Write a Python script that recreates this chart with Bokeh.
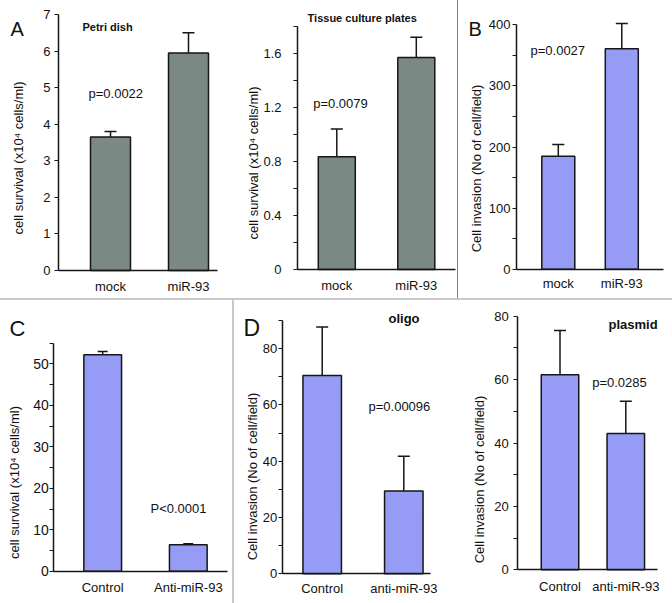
import math
from bokeh.plotting import figure
from bokeh.models import ColumnDataSource, Whisker, TeeHead, Label, FixedTicker, Range1d, Div
from bokeh.layouts import row, column
from bokeh.embed import file_html
from bokeh.resources import INLINE

# ---------------- data ----------------
a1_cats = ["mock", "miR-93"]
a1_vals = [3.65, 5.95]
a1_errs = [0.15, 0.55]
a1_major = [0, 1, 2, 3, 4, 5, 6, 7]
a1_minor = []

a2_cats = ["mock", "miR-93"]
a2_vals = [0.835, 1.57]
a2_errs = [0.205, 0.15]
a2_major = [0, 0.4, 0.8, 1.2, 1.6]
a2_minor = [0.2, 0.6, 1.0, 1.4, 1.8]

b_cats = ["mock", "miR-93"]
b_vals = [185, 361]
b_errs = [19, 41]
b_major = [0, 100, 200, 300, 400]
b_minor = [50, 150, 250, 350]

c_cats = ["Control", "Anti-miR-93"]
c_vals = [52.2, 6.4]
c_errs = [0.8, 0.2]
c_major = [0, 10, 20, 30, 40, 50]
c_minor = [5, 15, 25, 35, 45, 55]

d1_cats = ["Control", "anti-miR-93"]
d1_vals = [70.5, 29.4]
d1_errs = [17.2, 12.4]
d1_major = [0, 20, 40, 60, 80]
d1_minor = [10, 30, 50, 70, 90]

d2_cats = ["Control", "anti-miR-93"]
d2_vals = [61.5, 43.0]
d2_errs = [14.0, 10.2]
d2_major = [0, 20, 40, 60, 80]
d2_minor = [10, 30, 50, 70]

surv_label = "cell survival (x10\u2074 cells/ml)"
inv_label = "Cell invasion (No of cell/field)"

FONT = "Liberation Sans"
GRAY = "#7b8985"
BLUE = "#969cf6"
INK = "#161616"


def panel(cats, vals, errs, color, box, ax_x, x_end, zero_px, top_px, ytop,
          centers, barw, major, minor, ylab, ylab_pos, texts, xstand, ystand,
          tick_size=13, cap=12):
    x0, y0, w, h = box
    c0, c1 = centers
    ppu = c1 - c0                      # pixels per category step
    upp = (zero_px - top_px) / ytop    # pixels per y unit

    def px2d(px, py):
        return ((px - c0) / ppu, (zero_px - py) / upp)

    xs, ye = px2d(x0, y0)
    xe, ys = px2d(x0 + w, y0 + h)
    p = figure(width=w, height=h, x_range=Range1d(xs, xe), y_range=Range1d(ys, ye),
               output_backend="svg", toolbar_location=None,
               min_border_left=0, min_border_right=0, min_border_top=0, min_border_bottom=0)
    p.background_fill_color = "white"
    p.border_fill_color = "white"
    p.outline_line_color = None
    p.xgrid.visible = False
    p.ygrid.visible = False

    x = list(range(len(cats)))
    top = [v + e for v, e in zip(vals, errs)]
    src = ColumnDataSource(dict(x=x, val=vals, top=top))
    p.vbar(x="x", top="val", bottom=0, width=barw / ppu, source=src,
           fill_color=color, line_color=INK, line_width=1.5)
    wh = Whisker(source=src, base="x", lower="val", upper="top",
                 upper_head=TeeHead(size=cap, line_color=INK, line_width=1.5),
                 lower_head=None, line_color=INK, line_width=1.5, level="overlay")
    p.add_layout(wh)

    axis_xd = px2d(ax_x, 0)[0]
    end_xd = px2d(x_end, 0)[0]

    xa = p.xaxis[0]
    xa.fixed_location = 0
    xa.bounds = (axis_xd, end_xd)
    xa.ticker = FixedTicker(ticks=x)
    xa.major_label_overrides = {i: c for i, c in enumerate(cats)}
    xa.major_tick_out = 0
    xa.major_tick_in = 0
    xa.minor_tick_out = 0
    xa.minor_tick_in = 0
    xa.major_label_standoff = xstand
    xa.axis_line_color = INK
    xa.axis_line_width = 1.5
    xa.major_label_text_font = FONT
    xa.major_label_text_font_size = "13px"
    xa.major_label_text_color = "#111111"

    ya = p.yaxis[0]
    ya.fixed_location = axis_xd
    ya.bounds = (0, ytop)
    ya.ticker = FixedTicker(ticks=major, minor_ticks=minor)
    ya.major_tick_out = 4
    ya.major_tick_in = 0
    ya.minor_tick_out = 4
    ya.minor_tick_in = 0
    ya.major_tick_line_color = INK
    ya.minor_tick_line_color = INK
    ya.major_tick_line_width = 1.2
    ya.minor_tick_line_width = 1.2
    ya.axis_line_color = INK
    ya.axis_line_width = 1.5
    ya.major_label_standoff = ystand
    ya.major_label_text_font = FONT
    ya.major_label_text_font_size = f"{tick_size}px"
    ya.major_label_text_color = "#111111"

    lx, ly = px2d(*ylab_pos)
    p.add_layout(Label(x=lx, y=ly, text=ylab, angle=math.pi / 2, text_align="center",
                       text_baseline="middle", text_font=FONT, text_font_size="13px",
                       text_color="#111111"))
    for (t, px, py, size, bold, align) in texts:
        tx, ty = px2d(px, py)
        p.add_layout(Label(x=tx, y=ty, text=t, text_align=align, text_baseline="alphabetic",
                           text_font=FONT, text_font_size=f"{size}px",
                           text_font_style="bold" if bold else "normal",
                           text_color="#111111"))
    return p


pa1 = panel(a1_cats, a1_vals, a1_errs, GRAY, (0, 0, 222, 298), 58, 217, 270, 14, 7,
            (110, 188), 40, a1_major, a1_minor, surv_label, (18, 157.5),
            [("A", 10, 28, 20, False, "left"), ("Petri dish", 82, 26, 11, True, "left"),
             ("p=0.0022", 88, 93, 13, False, "left")], 8, 4)

pa2 = panel(a2_cats, a2_vals, a2_errs, GRAY, (222, 0, 235, 298), 297, 455, 269, 26, 1.8,
            (336.3, 415.8), 37, a2_major, a2_minor, surv_label, (253, 162.5),
            [("Tissue culture plates", 361.7, 17.5, 11, True, "center"),
             ("p=0.0079", 312.7, 103, 13, False, "left")], 8, 12)

pb = panel(b_cats, b_vals, b_errs, BLUE, (458, 0, 214, 298), 516, 663, 268.7, 24.3, 400,
           (557.8, 621.3), 33, b_major, b_minor, inv_label, (476, 168),
           [("B", 468, 28, 20, False, "left"), ("p=0.0027", 530, 50, 13, False, "left")], 7, 2)

pc = panel(c_cats, c_vals, c_errs, BLUE, (0, 300, 232, 303), 53.3, 227, 570.7, 342.7, 55,
           (102.2, 187.8), 37.7, c_major, c_minor, surv_label, (14, 482),
           [("C", 9, 328, 22, False, "left"), ("P<0.0001", 150, 508, 13, False, "left")],
           9, 1, tick_size=14, cap=10)

pd1 = panel(d1_cats, d1_vals, d1_errs, BLUE, (234, 300, 206, 303), 281.7, 430, 573.3, 320, 90,
            (321.7, 403.3), 38.5, d1_major, d1_minor, inv_label, (251.5, 476),
            [("D", 243, 327, 23, False, "left"), ("oligo", 388, 318, 13, True, "left"),
             ("p=0.00096", 368, 406, 13, False, "left")], 7, 1)

pd2 = panel(d2_cats, d2_vals, d2_errs, BLUE, (440, 300, 232, 303), 517.3, 657, 569.3, 315.7, 80,
            (559.5, 625.3), 37.5, d2_major, d2_minor, inv_label, (479, 479),
            [("plasmid", 608, 324, 13, True, "left"),
             ("p=0.0285", 591.7, 381.7, 13, False, "left")], 9, 5)

vdiv_top = Div(width=1, height=298, margin=0, styles={"background-color": "#7f7f7f"})
hdiv = Div(width=672, height=2, margin=0, styles={"background-color": "#c8c8c8"})
vdiv_bot = Div(width=2, height=303, margin=0, styles={"background-color": "#c8c8c8"})

layout = column(
    row(pa1, pa2, vdiv_top, pb, spacing=0),
    hdiv,
    row(pc, vdiv_bot, pd1, pd2, spacing=0),
    spacing=0,
)

open("out.html", "w").write(file_html(layout, INLINE))
